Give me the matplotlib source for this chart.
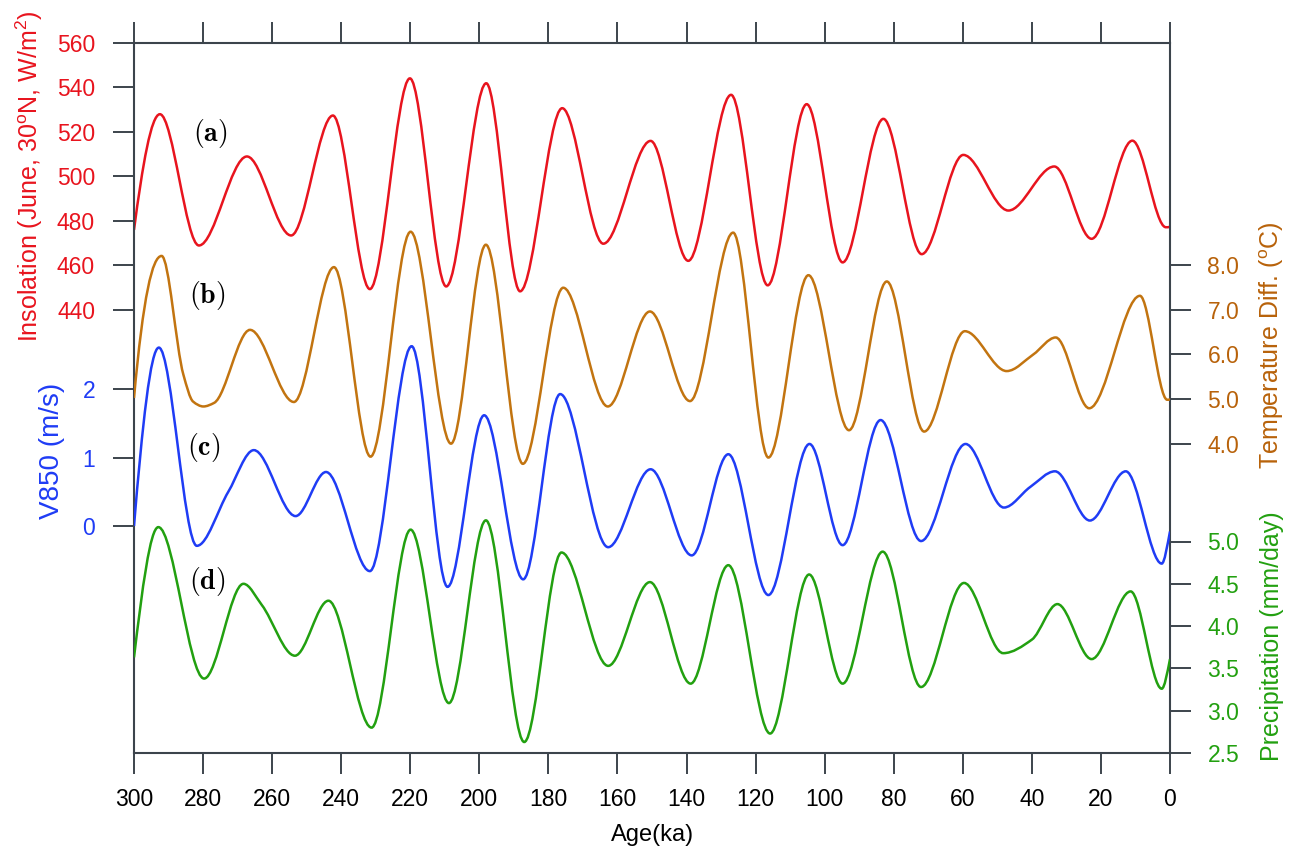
import numpy as np
import matplotlib
matplotlib.use("Agg")
import matplotlib.pyplot as plt
from matplotlib.path import Path
from matplotlib.patches import PathPatch

plt.rcParams['font.family'] = ['Liberation Sans', 'DejaVu Sans']
plt.rcParams['mathtext.fontset'] = 'custom'
plt.rcParams['mathtext.rm'] = 'Liberation Sans'
plt.rcParams['mathtext.it'] = 'Liberation Sans:italic'
plt.rcParams['mathtext.bf'] = 'Liberation Sans:bold'

# ---------------- data (extrema and shoulders) ----------------
ins_age = [0, 1.2, 10.9, 22.7, 33.5, 46.8, 59.85, 71.9, 83.0, 94.8, 105.2, 116.5, 127.1,
           139.5, 150.4, 164.1, 176.0, 188.2, 198.0, 209.6, 220.1, 231.7, 242.4, 254.5,
           267.3, 281.2, 292.5, 300]
ins_val = [477.4, 477.2, 516.1, 472.0, 504.5, 484.7, 509.7, 465.1, 525.9, 461.4, 532.5, 451.1,
           536.7, 462.1, 516.0, 469.8, 530.7, 448.4, 541.9, 450.6, 544.1, 449.4, 527.4, 473.5,
           509.0, 469.0, 528.0, 476.0]

tmp_age = [0, 0.8, 8.7, 23.4, 33.1, 39.6, 47.3, 59.4, 71.2, 82.0, 92.95, 104.7, 116.3, 126.5,
           139.0, 150.6, 162.8, 175.7, 187.4, 198.1, 208.2, 219.9, 231.5, 242.1, 253.7, 266.4,
           276.8, 279.9, 282.9, 285.7, 292.0, 300]
tmp_val = [5.0, 4.99, 7.31, 4.80, 6.38, 6.00, 5.63, 6.52, 4.28, 7.63, 4.31, 7.77, 3.70, 8.72,
           4.96, 6.96, 4.84, 7.49, 3.56, 8.45, 4.01, 8.74, 3.72, 7.95, 4.94, 6.55,
           4.92, 4.84, 4.95, 5.55, 8.20, 5.03]

v850_age = [0, 2.4, 12.8, 23.2, 33.3, 40.5, 48.1, 59.2, 72.1, 83.8, 94.8, 104.4, 116.3, 127.9,
            138.5, 150.4, 162.7, 176.6, 187.3, 198.6, 209.2, 219.6, 231.7, 244.4, 253.2, 265.3,
            272.7, 281.8, 292.8, 300]
v850_val = [-0.08, -0.55, 0.80, 0.08, 0.80, 0.57, 0.27, 1.20, -0.22, 1.55, -0.28, 1.20, -1.01,
            1.05, -0.43, 0.83, -0.31, 1.93, -0.78, 1.62, -0.89, 2.63, -0.66, 0.79, 0.145, 1.11,
            0.50, -0.29, 2.61, 0.0]

pre_age = [0, 2.4, 11.4, 22.7, 32.6, 40.0, 48.3, 59.65, 72.1, 83.2, 94.8, 104.5, 115.8, 127.9,
           138.8, 150.6, 162.7, 176.2, 187.0, 198.1, 208.8, 219.9, 231.2, 243.7, 253.4, 263.0,
           268.3, 279.7, 292.95, 300]
pre_val = [3.61, 3.26, 4.41, 3.61, 4.26, 3.84, 3.68, 4.51, 3.28, 4.88, 3.32, 4.61, 2.73, 4.72,
           3.32, 4.52, 3.53, 4.87, 2.63, 5.25, 3.09, 5.14, 2.80, 4.30, 3.65, 4.25,
           4.50, 3.38, 5.17, 3.63]

x_ticks = list(range(0, 301, 20))
ins_ticks = [440, 460, 480, 500, 520, 540, 560]
v850_ticks = [0, 1, 2]
tmp_ticks = [4.0, 5.0, 6.0, 7.0, 8.0]
pre_ticks = [2.5, 3.0, 3.5, 4.0, 4.5, 5.0]

# ---------------- style ----------------
RED = '#e8141e'
BROWN = '#c27410'
BROWN_T = '#b8620a'
BLUE = '#1f3cf5'
GREEN = '#22a010'
AXC = '#3c444c'


def smooth_path(ages, vals):
    """Smooth (shape preserving) Bezier path through the read points."""
    x = np.asarray(ages, float)
    y = np.asarray(vals, float)
    o = np.argsort(x)
    x, y = x[o], y[o]
    h = np.diff(x)
    d = np.diff(y) / h
    n = len(x)
    m = np.zeros(n)
    for k in range(1, n - 1):
        if d[k - 1] * d[k] > 0:
            w1 = 2 * h[k] + h[k - 1]
            w2 = h[k] + 2 * h[k - 1]
            m[k] = (w1 + w2) / (w1 / d[k - 1] + w2 / d[k])

    def end(h0, h1, d0, d1):
        mm = ((2 * h0 + h1) * d0 - h0 * d1) / (h0 + h1)
        if np.sign(mm) != np.sign(d0):
            mm = 0.0
        elif np.sign(d0) != np.sign(d1) and abs(mm) > abs(3 * d0):
            mm = 3 * d0
        return mm

    m[0] = end(h[0], h[1], d[0], d[1])
    m[-1] = end(h[-1], h[-2], d[-1], d[-2])
    verts = [(x[0], y[0])]
    codes = [Path.MOVETO]
    for k in range(n - 1):
        verts += [(x[k] + h[k] / 3, y[k] + m[k] * h[k] / 3),
                  (x[k + 1] - h[k] / 3, y[k + 1] - m[k + 1] * h[k] / 3),
                  (x[k + 1], y[k + 1])]
        codes += [Path.CURVE4] * 3
    return Path(verts, codes)


W, H = 1299, 865
fig = plt.figure(figsize=(W / 100, H / 100), dpi=100)
L, R, T, B = 134, 1170, 43, 753
rect = [L / W, 1 - B / H, (R - L) / W, (B - T) / H]
ph = B - T  # axes height in px

ax = fig.add_axes(rect)
ax_v = fig.add_axes(rect, sharex=ax)
ax_t = fig.add_axes(rect, sharex=ax)
ax_p = fig.add_axes(rect, sharex=ax)

ax.set_xlim(300, 0)

# y limits so that tick positions fall where they are in the figure
ax.set_ylim(560 - ph / 2.225, 560)
ax_v.set_ylim(-(B - 526) / 68.35, (526 - T) / 68.35)
ax_t.set_ylim(8 - (B - 264.9) / 44.8, 8 + (264.9 - T) / 44.8)
ax_p.set_ylim(2.5, 2.5 + ph / 84.6)

for a in (ax_v, ax_t, ax_p):
    a.patch.set_visible(False)
    for s in a.spines.values():
        s.set_visible(False)
    a.xaxis.set_visible(False)

for s in ax.spines.values():
    s.set_color(AXC)
    s.set_linewidth(1.5)

TLS = 16.5
tick_kw = dict(direction='out', length=15, width=1.4, color=AXC, labelsize=TLS)
ax.set_xticks(x_ticks)
ax.set_xticklabels([str(v) for v in x_ticks])
ax.tick_params(axis='x', top=True, bottom=True, labeltop=False, pad=10, labelcolor='black', **tick_kw)
ax.set_yticks(ins_ticks)
ax.set_yticklabels([str(v) for v in ins_ticks])
ax.tick_params(axis='y', left=True, right=False, pad=13, labelcolor=RED, **tick_kw)

ax_v.yaxis.tick_left()
ax_v.set_yticks(v850_ticks)
ax_v.set_yticklabels([str(v) for v in v850_ticks])
ax_v.tick_params(axis='y', pad=13, labelcolor=BLUE, **tick_kw)

ax_t.yaxis.tick_right()
ax_t.set_yticks(tmp_ticks)
ax_t.set_yticklabels(['%.1f' % v for v in tmp_ticks])
ax_t.tick_params(axis='y', pad=12, labelcolor=BROWN_T, **tick_kw)

ax_p.yaxis.tick_right()
ax_p.set_yticks(pre_ticks)
ax_p.set_yticklabels(['%.1f' % v for v in pre_ticks])
ax_p.tick_params(axis='y', pad=12, labelcolor=GREEN, **tick_kw)

lw = 1.8
ax.add_patch(PathPatch(smooth_path(ins_age, ins_val), fill=False, edgecolor=RED, lw=lw))
ax_t.add_patch(PathPatch(smooth_path(tmp_age, tmp_val), fill=False, edgecolor=BROWN, lw=lw))
ax_v.add_patch(PathPatch(smooth_path(v850_age, v850_val), fill=False, edgecolor=BLUE, lw=lw))
ax_p.add_patch(PathPatch(smooth_path(pre_age, pre_val), fill=False, edgecolor=GREEN, lw=lw))


def ftxt(x, y, s, **kw):
    fig.text(x / W, 1 - y / H, s, ha='center', va='center', **kw)


ftxt(29, 176, r'Insolation (June, 30$^{\rm o}$N, W/m$^{2}$)', rotation=90, color=RED, fontsize=18)
ftxt(52, 451, 'V850 (m/s)', rotation=90, color=BLUE, fontsize=20)
ftxt(1272, 345, r'Temperature Diff. ($^{\rm o}$C)', rotation=90, color=BROWN_T, fontsize=18)
ftxt(1272, 636, 'Precipitation (mm/day)', rotation=90, color=GREEN, fontsize=18)
ftxt(653, 835, 'Age(ka)', color='black', fontsize=17)

for s, (x, y) in zip(['(a)', '(b)', '(c)', '(d)'],
                     [(210, 134), (207, 296), (204, 447), (207, 582)]):
    ftxt(x, y, r'$\mathbf{' + s + '}$', math_fontfamily='cm', fontsize=20, color='black')

fig.savefig('out.png', dpi=100, facecolor='white')
